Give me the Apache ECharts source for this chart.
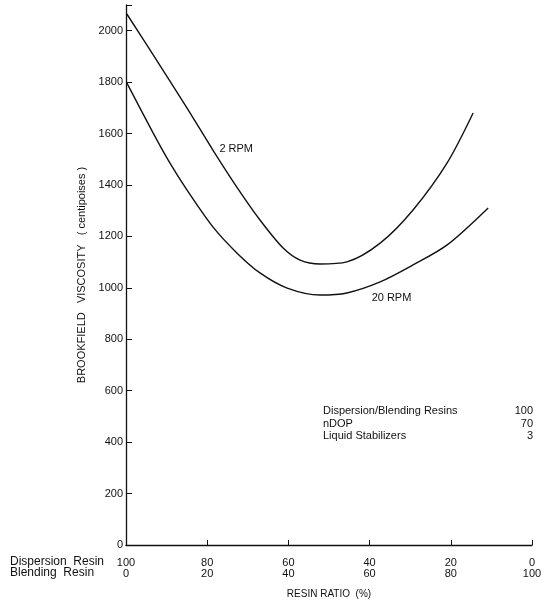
<!DOCTYPE html>
<html>
<head>
<meta charset="utf-8">
<script src="https://cdn.jsdelivr.net/npm/echarts@6.0.0/dist/echarts.min.js"></script>
<style>
  html, body { margin: 0; padding: 0; background: #fff; }
  #chart { width: 551px; height: 604px; }
</style>
</head>
<body>
<div id="chart"></div>
<script>
  // blending resin share (%) -> dispersion resin = 100 - x
  var blendPct2 = [0.2, 6.7, 15.0, 21.4, 27.3, 33.0, 38.7, 42.9, 47.8, 54.4, 62.6, 70.7, 79.1, 85.5]
  var visc2rpm = [2065, 1906, 1700, 1536, 1392, 1264, 1155, 1108, 1093, 1101, 1174, 1303, 1486, 1680]

  var blendPct20 = [0.2, 6.7, 10.8, 15.0, 21.4, 27.3, 33.0, 39.7, 47.8, 54.4, 62.6, 70.7, 79.1, 89.2]
  var visc20rpm = [1797, 1602, 1486, 1381, 1237, 1136, 1058, 999, 972, 980, 1023, 1089, 1167, 1311]

  var yTicks = [0, 200, 400, 600, 800, 1000, 1200, 1400, 1600, 1800, 2000]
  var xTicks = [0, 20, 40, 60, 80, 100]

  var recipe = [
    ['Dispersion/Blending Resins', '100'],
    ['nDOP', '70'],
    ['Liquid Stabilizers', '3'],
  ]

  var font = '"Liberation Sans", Arial, sans-serif'
  var ink = '#111'

  function zip(xs, ys) {
    return xs.map((x, i) => [x, ys[i]])
  }

  var chart = echarts.init(document.getElementById('chart'))

  var option = {
    animation: false,
    backgroundColor: '#fff',
    grid: { left: 126, right: 19, top: 5, bottom: 59 },
    xAxis: {
      type: 'value',
      min: 0,
      max: 100,
      interval: 20,
      name: 'RESIN RATIO  (%)',
      nameLocation: 'middle',
      nameGap: 44,
      nameTextStyle: { fontFamily: font, fontSize: 10, color: ink },
      axisLine: { lineStyle: { color: ink, width: 1.3 } },
      axisTick: { inside: true, length: 5, lineStyle: { color: ink } },
      splitLine: { show: false },
      axisLabel: {
        margin: 12,
        fontFamily: font,
        fontSize: 11,
        lineHeight: 11,
        color: ink,
        showMinLabel: true,
        showMaxLabel: true,
        formatter: v => (xTicks.includes(v) ? 100 - v + '\n' + v : ''),
      },
    },
    yAxis: {
      type: 'value',
      min: 0,
      max: 2100,
      interval: 200,
      name: 'BROOKFIELD   VISCOSITY   ( centipoises )',
      nameLocation: 'middle',
      nameGap: 33,
      nameTextStyle: { fontFamily: font, fontSize: 11, color: ink },
      axisLine: { show: true, lineStyle: { color: ink, width: 1.3 } },
      axisTick: { show: true, inside: true, length: 6, lineStyle: { color: ink } },
      splitLine: { show: false },
      axisLabel: {
        margin: 3,
        fontFamily: font,
        fontSize: 11,
        color: ink,
        formatter: v => (yTicks.includes(v) ? String(v) : ''),
      },
    },
    series: [
      {
        name: '2 RPM',
        type: 'line',
        smooth: 0.3,
        symbol: 'none',
        lineStyle: { color: ink, width: 1.4 },
        data: zip(blendPct2, visc2rpm),
      },
      {
        name: '20 RPM',
        type: 'line',
        smooth: 0.3,
        symbol: 'none',
        lineStyle: { color: ink, width: 1.4 },
        data: zip(blendPct20, visc20rpm),
      },
    ],
  }

  chart.setOption(option)

  // text placed next to the curves, using the chart's own scales
  var p2 = chart.convertToPixel({ gridIndex: 0 }, [23, 1540])
  var p20 = chart.convertToPixel({ gridIndex: 0 }, [60.5, 960])

  var txt = (x, y, text, extra) => ({
    type: 'text',
    x,
    y,
    style: Object.assign({ text, fill: ink, font: '11px ' + font, textVerticalAlign: 'middle' }, extra || {}),
  })

  var graphics = [
    txt(p2[0], p2[1], '2 RPM'),
    txt(p20[0], p20[1], '20 RPM'),
    txt(10, 562, 'Dispersion  Resin', { font: '12px ' + font }),
    txt(10, 573, 'Blending  Resin', { font: '12px ' + font }),
  ]
  recipe.forEach(([name, val], i) => {
    var y = 411 + i * 12.5
    graphics.push(txt(323, y, name))
    graphics.push(txt(533, y, val, { textAlign: 'right' }))
  })

  chart.setOption({ graphic: graphics })
</script>
</body>
</html>
